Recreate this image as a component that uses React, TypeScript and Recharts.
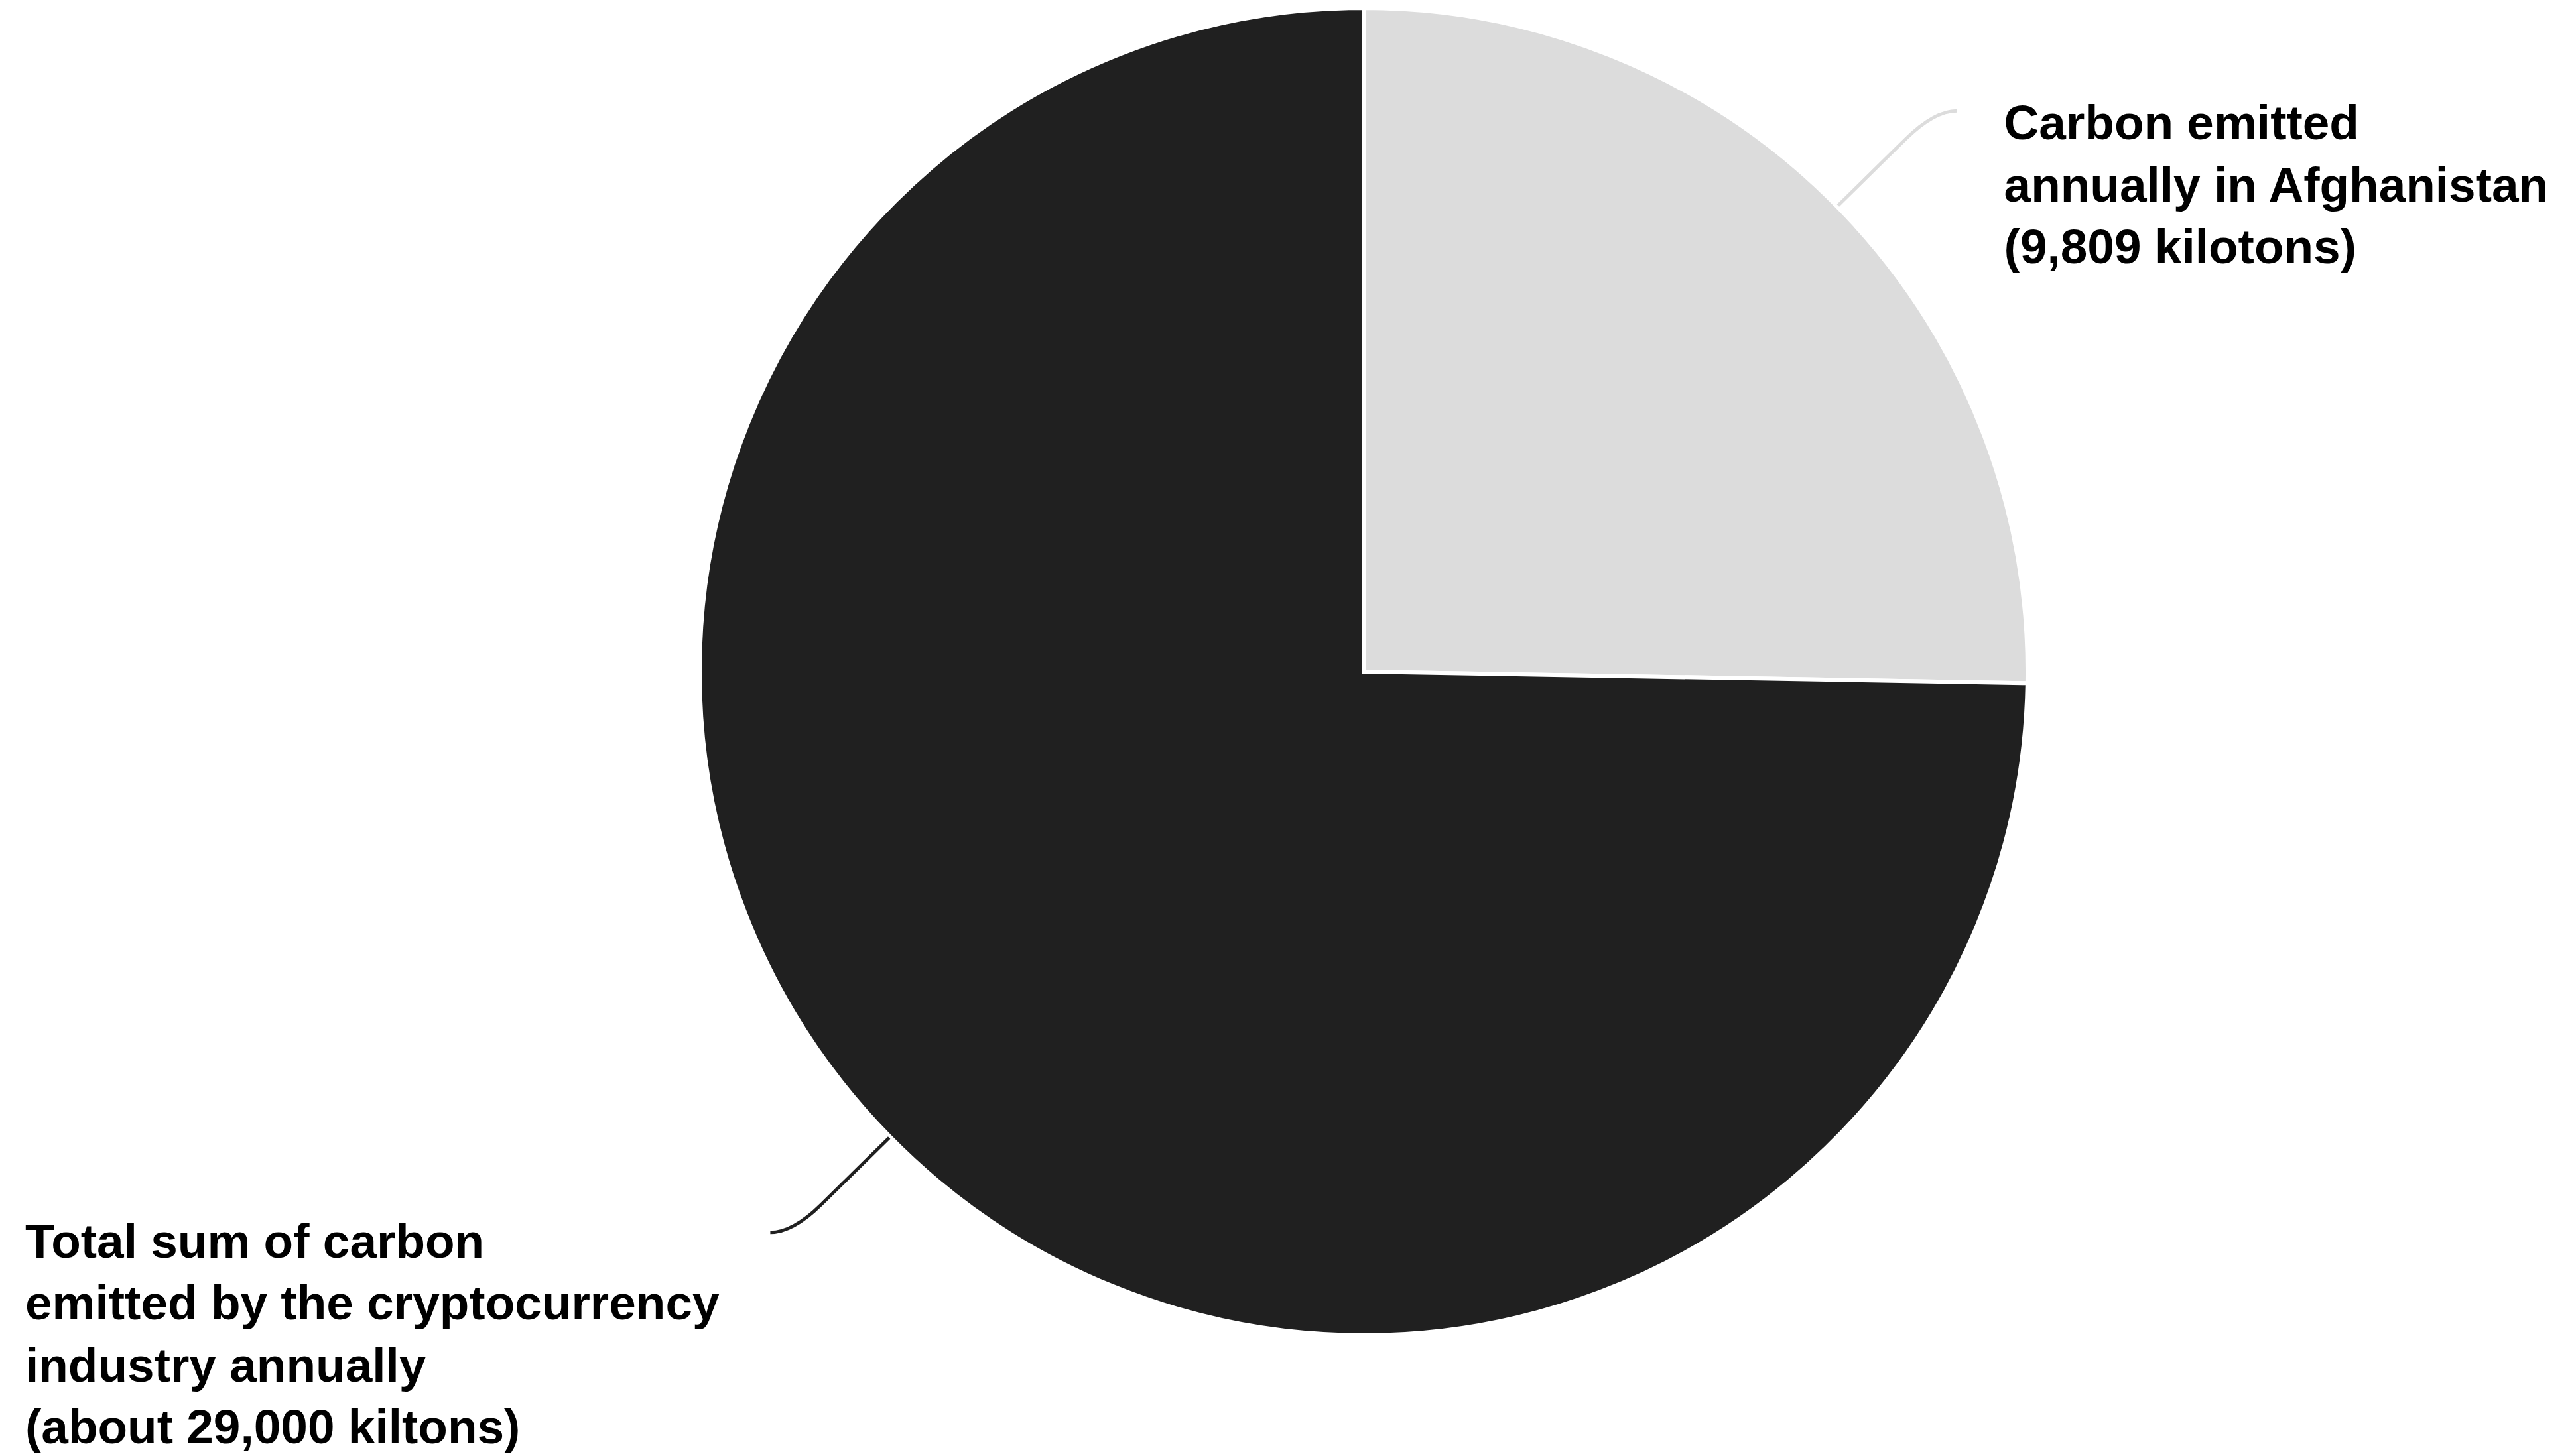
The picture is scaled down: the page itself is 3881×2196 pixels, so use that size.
import React from "react";
import { PieChart, Pie, Cell } from "recharts";

const categories = [
  "Carbon emitted annually in Afghanistan",
  "Total sum of carbon emitted by the cryptocurrency industry annually",
];
const values = [9809, 29000];
const labelLines = [
  ["Carbon emitted", "annually in Afghanistan", "(9,809 kilotons)"],
  ["Total sum of carbon", "emitted by the cryptocurrency", "industry annually", "(about 29,000 kiltons)"],
];
const colors = ["#dcdcdc", "#202020"];

const data = categories.map((name, i) => ({ name, value: values[i] }));

const W = 3881;
const H = 2196;
const FONT = "'Liberation Sans', Arial, Helvetica, sans-serif";

const RADIAN = Math.PI / 180;

const renderLabel = (props: any) => {
  const { cx, cy, midAngle, outerRadius, index } = props;
  const cos = Math.cos(-midAngle * RADIAN);
  const sin = Math.sin(-midAngle * RADIAN);
  const rStart = outerRadius + 2;
  const sx = cx + rStart * cos;
  const sy = cy + rStart * sin;
  const endDy = outerRadius * 0.845 * Math.sign(sin);
  const t = endDy / sin;
  const ctrlX = cx + t * cos;
  const ctrlY = cy + endDy;
  const dirX = cos >= 0 ? 1 : -1;
  const ex = ctrlX + dirX * 34;
  const ey = ctrlY;
  const px = ctrlX - 60 * cos;
  const py = ctrlY - 60 * sin;
  const lines = labelLines[index];
  const isRight = cos >= 0;
  const tx = isRight ? ex + 71 : 38;
  const ty = isRight ? ey + 43 : ey + 38;
  return (
    <g key={`lbl-${index}`}>
      <path
        d={`M${sx},${sy} L${px},${py} Q${ctrlX},${ctrlY} ${ex},${ey}`}
        stroke={colors[index]}
        strokeWidth={5}
        fill="none"
      />
      <text
        x={tx}
        y={ty}
        fill="#000"
        fontFamily={FONT}
        fontWeight="bold"
        fontSize={73}
        textAnchor="start"
      >
        {lines.map((l, i) => (
          <tspan key={i} x={tx} dy={i === 0 ? 0 : 93.5}>
            {l}
          </tspan>
        ))}
      </text>
    </g>
  );
};

export default function App() {
  return (
    <div style={{ position: "absolute", left: 0, top: 0, width: W, height: H, background: "#fff" }}>
      <PieChart width={W} height={H} margin={{ top: 0, right: 0, bottom: 0, left: 0 }}>
        <Pie
          data={data}
          dataKey="value"
          nameKey="name"
          cx={2056}
          cy={1013}
          outerRadius={1001}
          startAngle={90}
          endAngle={-270}
          stroke="#ffffff"
          strokeWidth={6}
          label={renderLabel}
          labelLine={false}
          isAnimationActive={false}
        >
          {data.map((d, i) => (
            <Cell key={d.name} fill={colors[i]} stroke="#ffffff" strokeWidth={6} />
          ))}
        </Pie>
      </PieChart>
    </div>
  );
}
